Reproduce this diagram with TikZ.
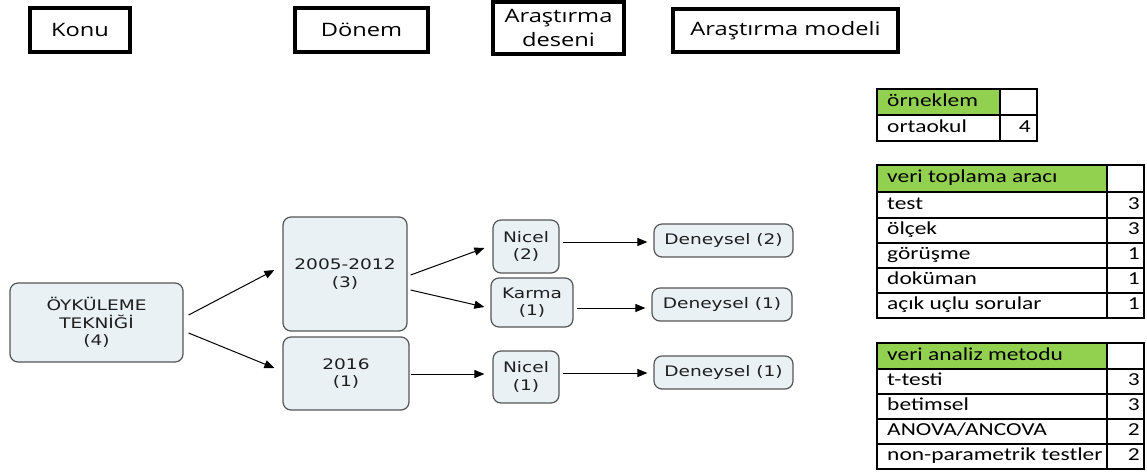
\documentclass[tikz,border=0pt]{standalone}
\usepackage{fontspec}
\usetikzlibrary{calc,arrows.meta}
\newfontfamily\hdrfont{Open Sans}[FakeStretch=1.28]
\newfontfamily\nodefont{DejaVu Sans}[FakeStretch=1.28]
\newfontfamily\tabfont{Carlito}[FakeStretch=1.28]
\definecolor{nodefill}{RGB}{234,241,245}
\definecolor{nodeline}{RGB}{85,85,85}
\definecolor{txt}{RGB}{30,30,30}
\definecolor{hdrgreen}{RGB}{146,208,80}
\begin{document}
\begin{tikzpicture}[x=1pt,y=-1pt,
  hdr/.style={draw=black, line width=4pt, fill=white, align=center, inner sep=0pt,
    font=\hdrfont\fontsize{18.5}{24}\selectfont},
  box/.style={draw=nodeline, line width=1.2pt, fill=nodefill, rounded corners=8pt,
    text=txt, align=center, inner sep=0pt, font=\nodefont\fontsize{14.5}{17.5}\selectfont},
  arr/.style={-{Triangle[length=10pt,width=8pt]}, line width=1pt, black},
  tab/.style={draw=black, line width=1.2pt},
  tl/.style={anchor=mid west, inner sep=0pt, font=\tabfont\fontsize{18.3}{22}\selectfont},
  tr/.style={anchor=mid east, inner sep=0pt, font=\tabfont\fontsize{18.3}{22}\selectfont}]
\useasboundingbox (0,0) rectangle (1147,472);

% headers
\node[hdr, minimum width=100, minimum height=44] (konu) at (80,30) {Konu};
\node[hdr, minimum width=133, minimum height=44] (donem) at (361.5,30) {Dönem};
\node[hdr, minimum width=131, minimum height=52] (desen) at (558.5,28) {Araştırma\\deseni};
\node[hdr, minimum width=225, minimum height=43] (model) at (785.5,30.5) {Araştırma modeli};

% diagram nodes
\node[box, minimum width=173, minimum height=79] (oyk) at (96.5,322.5) {ÖYKÜLEME\\TEKNİĞİ\\(4)};
\node[box, minimum width=124, minimum height=114] (d1) at (345,274) {2005-2012\\(3)};
\node[box, minimum width=126, minimum height=73] (d2) at (346,373.5) {2016\\(1)};
\node[box, minimum width=66, minimum height=53] (n1) at (526,246.5) {Nicel\\(2)};
\node[box, minimum width=82, minimum height=49] (ka) at (532,302.5) {Karma\\(1)};
\node[box, minimum width=66, minimum height=52] (n2) at (526,377) {Nicel\\(1)};
\node[box, minimum width=139, minimum height=33] (den1) at (723.5,240.5) {Deneysel (2)};
\node[box, minimum width=140, minimum height=33] (den2) at (722,304.5) {Deneysel (1)};
\node[box, minimum width=139, minimum height=33] (den3) at (723.5,372.5) {Deneysel (1)};

% connectors
\draw[arr] ($(oyk.east)+(5,-7.5)$) -- ($(d1.west)+(-8,-4)$);
\draw[arr] ($(oyk.east)+(5,10.5)$) -- ($(d2.west)+(-8,-5.5)$);
\draw[arr] ($(d1.east)+(3,1)$) -- ($(n1.west)+(-8,1.5)$);
\draw[arr] ($(d1.east)+(3,16)$) -- ($(ka.west)+(-6,4.5)$);
\draw[arr] ($(d2.east)+(1,0.5)$) -- ($(n2.west)+(-8,-3)$);
\draw[arr] ($(n1.east)+(3,-4.5)$) -- ($(den1.west)+(-6,1.5)$);
\draw[arr] ($(ka.east)+(3,5.5)$) -- ($(den2.west)+(-6,3.5)$);
\draw[arr] ($(n2.east)+(3,-4)$) -- ($(den3.west)+(-6,0.5)$);

% table 1: örneklem
\fill[hdrgreen] (877,89) rectangle (1000,115);
\draw[tab] (877,89) rectangle (1037,141);
\draw[tab] (1000,89) -- (1000,141);
\draw[tab] (877,115) -- (1037,115);
\node[tl] (t1h) at (887,104) {örneklem};
\node[tl] (t1a) at (887,130) {ortaokul};
\node[tr] (t1v) at (1031,130) {4};

% table 2: veri toplama aracı
\fill[hdrgreen] (877,165) rectangle (1107,192);
\draw[tab] (877,165) rectangle (1144,318);
\draw[tab] (1107,165) -- (1107,318);
\foreach \y in {192,218,243,268,293} \draw[tab] (877,\y) -- (1144,\y);
\node[tl] (t2h) at (887,180.5) {veri toplama aracı};
\foreach \lab/\val/\y [count=\i] in {test/3/207, ölçek/3/232.5, görüşme/1/257.5, doküman/1/282.5, açık uçlu sorular/1/307.5}{
  \node[tl] (t2l\i) at (887,\y) {\lab};
  \node[tr] (t2v\i) at (1140,\y) {\val};
}

% table 3: veri analiz metodu
\fill[hdrgreen] (877,343) rectangle (1107,369);
\draw[tab] (877,343) rectangle (1144,469);
\draw[tab] (1107,343) -- (1107,469);
\foreach \y in {369,394,419,444} \draw[tab] (877,\y) -- (1144,\y);
\node[tl] (t3h) at (887,358) {veri analiz metodu};
\foreach \lab/\val/\y [count=\i] in {t-testi/3/383.5, betimsel/3/408.5, {ANOVA/ANCOVA}/2/433.5, non-parametrik testler/2/458.5}{
  \node[tl] (t3l\i) at (887,\y) {\lab};
  \node[tr] (t3v\i) at (1140,\y) {\val};
}
\end{tikzpicture}
\end{document}
